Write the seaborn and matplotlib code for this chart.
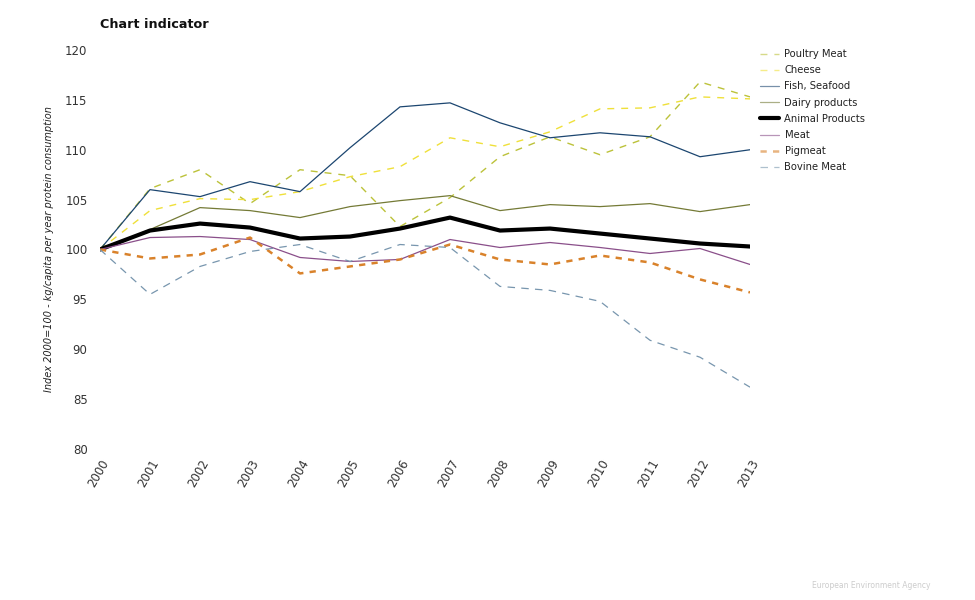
import matplotlib
matplotlib.use("Agg")
import matplotlib.pyplot as plt
import seaborn as sns
import pandas as pd

years = list(range(2000, 2014))
poultry = [100, 106.1, 108.0, 104.6, 108.0, 107.4, 102.3, 105.2, 109.3, 111.3, 109.5, 111.3, 116.8, 115.3]
cheese = [100, 103.9, 105.1, 105.0, 105.8, 107.3, 108.3, 111.2, 110.3, 111.8, 114.1, 114.2, 115.3, 115.1]
fish = [100, 106.0, 105.3, 106.8, 105.8, 110.2, 114.3, 114.7, 112.7, 111.2, 111.7, 111.3, 109.3, 110.0]
dairy = [100, 102.0, 104.2, 103.9, 103.2, 104.3, 104.9, 105.4, 103.9, 104.5, 104.3, 104.6, 103.8, 104.5]
animal = [100, 101.9, 102.6, 102.2, 101.1, 101.3, 102.1, 103.2, 101.9, 102.1, 101.6, 101.1, 100.6, 100.3]
meat = [100, 101.2, 101.3, 101.0, 99.2, 98.8, 99.0, 101.0, 100.2, 100.7, 100.2, 99.6, 100.1, 98.5]
pigmeat = [100, 99.1, 99.5, 101.2, 97.6, 98.3, 99.0, 100.5, 99.0, 98.5, 99.4, 98.7, 97.0, 95.7]
bovine = [100, 95.5, 98.3, 99.8, 100.5, 98.8, 100.5, 100.2, 96.3, 95.9, 94.8, 90.9, 89.2, 86.2]

series_names = ["Poultry Meat", "Cheese", "Fish, Seafood", "Dairy products",
                "Animal Products", "Meat", "Pigmeat", "Bovine Meat"]
series_values = [poultry, cheese, fish, dairy, animal, meat, pigmeat, bovine]
y_ticks = [80, 85, 90, 95, 100, 105, 110, 115, 120]

styles = {
    "Poultry Meat": dict(color="#bcc23a", lw=1.0, ls=(0, (5, 5))),
    "Cheese": dict(color="#efe03a", lw=1.0, ls=(0, (5, 5))),
    "Fish, Seafood": dict(color="#1c4670", lw=0.9, ls="-"),
    "Dairy products": dict(color="#747a36", lw=0.9, ls="-"),
    "Animal Products": dict(color="#000000", lw=3.0, ls="-"),
    "Meat": dict(color="#8a4f8a", lw=0.9, ls="-"),
    "Pigmeat": dict(color="#d9822b", lw=1.8, ls=(0, (2.5, 2.5))),
    "Bovine Meat": dict(color="#7896ae", lw=0.9, ls=(0, (6, 5))),
}

sns.set_style("white")
plt.rcParams['font.family'] = ['DejaVu Sans']

fig = plt.figure(figsize=(9.75, 6), dpi=100)
ax = fig.add_axes([100/975, 1-449/600, 650/975, 399/600])

for name, vals in zip(series_names, series_values):
    st = styles[name]
    df = pd.DataFrame({"year": years, "value": vals})
    sns.lineplot(data=df, x="year", y="value", ax=ax, color=st["color"],
                 linewidth=st["lw"], linestyle=st["ls"], label=name)

ax.set_xlim(2000, 2013)
ax.set_ylim(80, 120)
ax.set_xticks(years)
ax.set_xticklabels([str(y) for y in years], rotation=60, ha="right",
                   rotation_mode="anchor", fontsize=8.5, color="#333333")
ax.set_yticks(y_ticks)
ax.set_yticklabels([str(v) for v in y_ticks], fontsize=8.5, color="#333333")
ax.tick_params(axis="both", length=0, pad=9)
ax.tick_params(axis="x", pad=6)
for s in ax.spines.values():
    s.set_visible(False)
ax.set_xlabel("")
ax.set_ylabel("Index 2000=100 - kg/capita per year protein consumption",
              fontsize=7, style="italic", color="#222222", labelpad=8)

leg = ax.legend(loc="upper left", bbox_to_anchor=(756/975, 1-45/600),
                bbox_transform=fig.transFigure, frameon=False, fontsize=7.2,
                handlelength=1.9, handletextpad=0.55, labelspacing=0.62,
                borderaxespad=0)
for h, name in zip(leg.get_lines(), series_names):
    if name != "Animal Products":
        h.set_alpha(0.6)
for t in leg.get_texts():
    t.set_color("#222222")

fig.text(100/975, 1-24/600, "Chart indicator", fontsize=9.2, fontweight="bold",
         va="center", ha="left", color="#111111")
fig.text(930/975, 1-585/600, "European Environment Agency", fontsize=5.5,
         color="#cccccc", ha="right", va="center")

fig.savefig("out.png", dpi=100)
